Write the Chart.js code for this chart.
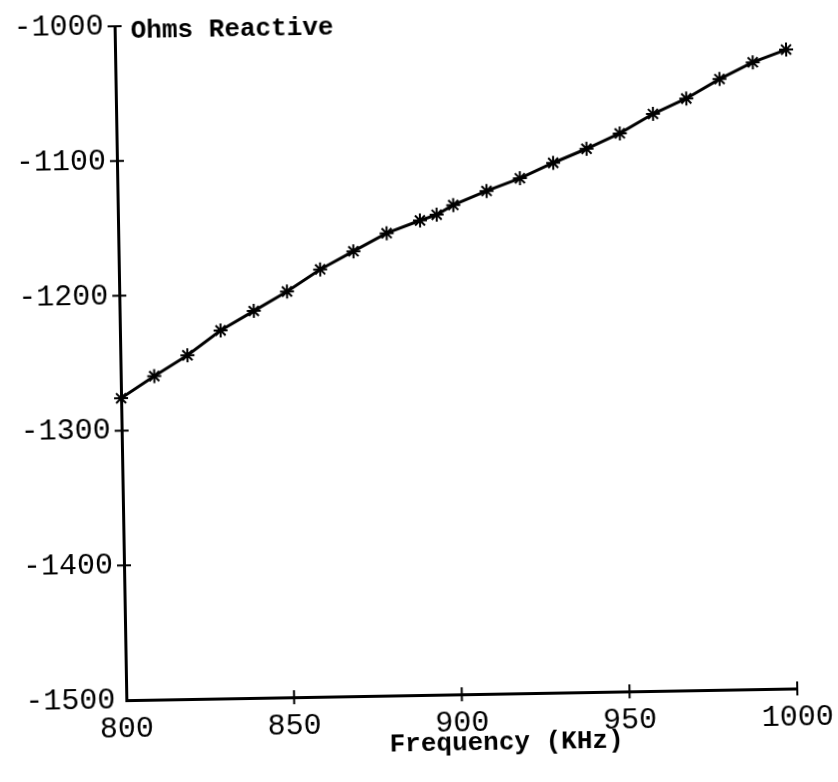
<!DOCTYPE html>
<html lang="en">
<head>
  <meta charset="UTF-8">
  <title>Ohms Reactive vs Frequency</title>
  <script src="https://cdn.jsdelivr.net/npm/chart.js"></script>
  <style>
    html, body {
      margin: 0;
      padding: 0;
      background: #fff;
      overflow: hidden;
    }

    /* the original is a slightly skewed scan */
    .wrap {
      position: relative;
      width: 838px;
      height: 782px;
      transform: rotate(-1deg);
    }
  </style>
</head>
<body>
  <div class="wrap">
    <canvas id="reactChart"></canvas>
  </div>

  <script>
    const freqKHz = [800, 810, 820, 830, 840, 850, 860, 870, 880, 890, 895,
                     900, 910, 920, 930, 940, 950, 960, 970, 980, 990, 1000];
    const ohmsReactive = [-1276, -1260, -1245, -1227, -1213, -1199, -1183, -1170, -1157, -1148, -1144,
                          -1137, -1127, -1118, -1107, -1097, -1086, -1072, -1061, -1047, -1035, -1026];
    // the drawn curve runs a little past the last measured point
    const curveEndKHz = 1003;
    const curveEndOhms = -1021;
    const xTicks = [800, 850, 900, 950, 1000];
    const yTicks = [-1500, -1400, -1300, -1200, -1100, -1000];

    const monoFont = '"Liberation Mono", "DejaVu Sans Mono", monospace';

    // "+" shaped tick marks and the two bold labels
    const crossTicks = {
      id: "crossTicks",
      afterDraw(chart) {
        const { ctx, chartArea, scales: { x, y } } = chart;
        ctx.save();
        ctx.strokeStyle = "#000";
        ctx.lineWidth = 2;
        ctx.beginPath();
        xTicks.slice(1).forEach(v => {
          const px = x.getPixelForValue(v);
          ctx.moveTo(px, chartArea.bottom - 7);
          ctx.lineTo(px, chartArea.bottom + 7);
        });
        yTicks.slice(1).forEach(v => {
          const py = y.getPixelForValue(v);
          ctx.moveTo(chartArea.left - 7, py);
          ctx.lineTo(chartArea.left + 7, py);
        });
        ctx.stroke();

        ctx.fillStyle = "#000";
        ctx.font = "bold 26px " + monoFont;
        ctx.textBaseline = "middle";
        ctx.textAlign = "left";
        ctx.fillText("Ohms Reactive", chartArea.left + 16, y.getPixelForValue(-1000) + 5);
        ctx.textAlign = "center";
        ctx.fillText("Frequency (KHz)", (chartArea.left + chartArea.right) / 2 + 44, chartArea.bottom + 49);
        ctx.restore();
      }
    };

    const points = freqKHz.map((f, i) => ({ x: f, y: ohmsReactive[i] }));

    const ctx = document.getElementById("reactChart").getContext("2d");
    const reactChart = new Chart(ctx, {
      type: "scatter",
      data: {
        datasets: [
          {
            label: "curve",
            data: points.concat([{ x: curveEndKHz, y: curveEndOhms }]),
            showLine: true,
            borderColor: "#000",
            borderWidth: 3,
            pointRadius: 0,
            tension: 0,
            clip: false,
          },
          {
            label: "Ohms Reactive",
            data: points,
            showLine: false,
            pointStyle: "star",
            pointRadius: 7,
            pointBorderWidth: 2,
            pointBorderColor: "#000",
            pointBackgroundColor: "#000",
            clip: false,
          },
        ],
      },
      options: {
        responsive: true,
        maintainAspectRatio: false,
        animation: false,
        layout: {
          padding: { left: 17, right: 46, top: -26, bottom: 37 },
        },
        plugins: {
          legend: { display: false },
          tooltip: { enabled: false },
        },
        scales: {
          x: {
            type: "linear",
            min: 800,
            max: 1000,
            afterBuildTicks: s => { s.ticks = xTicks.map(v => ({ value: v })); },
            grid: { display: false },
            border: { color: "#000", width: 3 },
            ticks: {
              color: "#000",
              font: { family: monoFont, size: 30 },
              padding: 3,
              maxRotation: 0,
              callback: v => String(v),
            },
          },
          y: {
            type: "linear",
            min: -1500,
            max: -1000,
            afterBuildTicks: s => { s.ticks = yTicks.map(v => ({ value: v })); },
            grid: { display: false },
            border: { color: "#000", width: 3 },
            ticks: {
              color: "#000",
              font: { family: monoFont, size: 30 },
              padding: 3,
              callback: v => String(v),
            },
          },
        },
      },
      plugins: [crossTicks],
    });
  </script>
</body>
</html>
